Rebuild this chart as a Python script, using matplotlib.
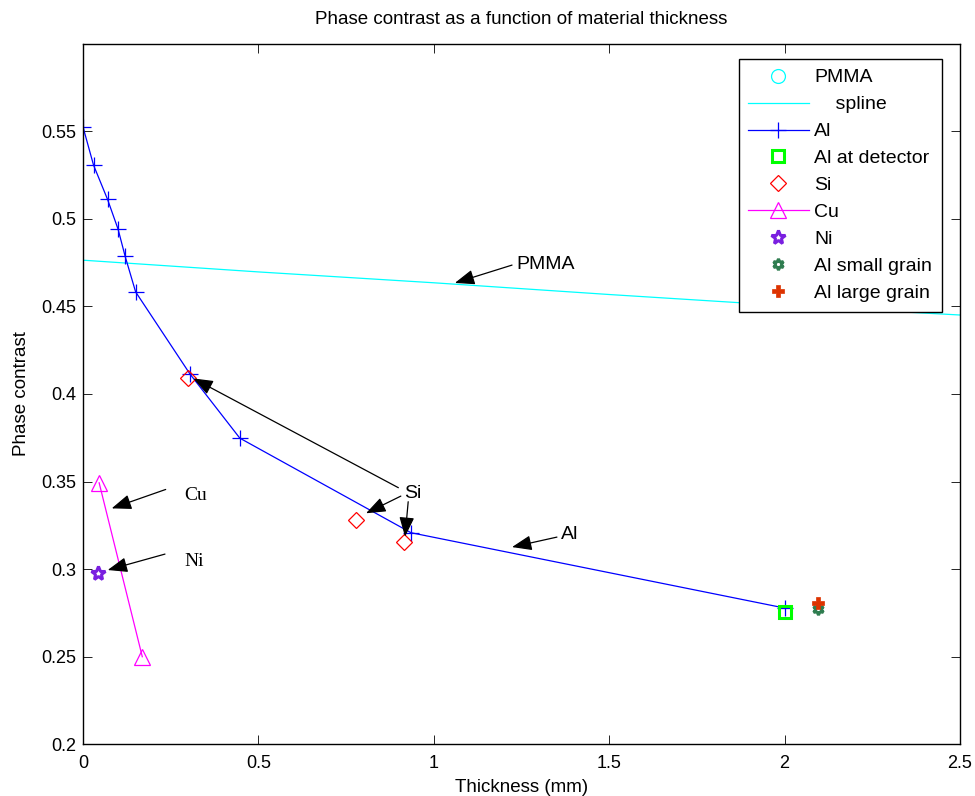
import numpy as np
import matplotlib
matplotlib.use('Agg')
import matplotlib.pyplot as plt

plt.rcParams['font.family'] = ['Liberation Sans', 'DejaVu Sans']

# Data (thickness in mm, phase contrast)
pmma_thick = []
pmma_phase = []

spline_thick = [0.0, 0.5, 1.0, 1.5, 2.0, 2.5]
spline_phase = [0.4764, 0.4697, 0.4635, 0.4568, 0.4505, 0.4451]

al_thick = [0.0, 0.03, 0.07, 0.10, 0.12, 0.15, 0.305, 0.447, 0.935, 2.0]
al_phase = [0.5525, 0.5307, 0.5111, 0.4941, 0.4787, 0.4583, 0.4114, 0.3748, 0.3208, 0.2778]

al_det_thick = [2.0]
al_det_phase = [0.2757]

si_thick = [0.298, 0.778, 0.916]
si_phase = [0.4092, 0.328, 0.3156]

cu_thick = [0.046, 0.169]
cu_phase = [0.3493, 0.250]

ni_thick = [0.044]
ni_phase = [0.2976]

al_small_thick = [2.096]
al_small_phase = [0.2771]

al_large_thick = [2.096]
al_large_phase = [0.2805]

x_ticks = [0, 0.5, 1, 1.5, 2, 2.5]
x_tick_labels = ['0', '0.5', '1', '1.5', '2', '2.5']
y_ticks = [0.2, 0.25, 0.3, 0.35, 0.4, 0.45, 0.5, 0.55]
y_tick_labels = ['0.2', '0.25', '0.3', '0.35', '0.4', '0.45', '0.5', '0.55']

fig = plt.figure(figsize=(9.75, 7.96), dpi=100)
ax = fig.add_axes([83 / 975, 1 - 744.3 / 796, 877 / 975, 700.6 / 796])

ax.plot(pmma_thick, pmma_phase, 'o', color='#00ffff', mfc='none', ms=10, mew=0.9, label='PMMA')
ax.plot(spline_thick, spline_phase, '-', color='#00ffff', lw=0.9, label='    spline')
ax.plot(al_thick, al_phase, '-+', color='#0000ff', lw=0.9, ms=11, mew=0.9, label='Al')
ax.plot(al_det_thick, al_det_phase, 's', color='#00ff00', mfc='none', ms=9, mew=2.2, label='Al at detector')
ax.plot(si_thick, si_phase, 'D', color='#ff0000', mfc='none', ms=8, mew=0.9, label='Si')
ax.plot(cu_thick, cu_phase, '-^', color='#ff00ff', mfc='none', lw=0.9, ms=11, mew=0.9, label='Cu')
ax.plot(ni_thick, ni_phase, '*', color='#7a1fe0', mfc='none', ms=10, mew=2.2, label='Ni')
ax.plot(al_small_thick, al_small_phase, marker=(6, 1, 0), ls='none', color='#2f7d50', mfc='none',
        ms=8, mew=2.2, label='Al small grain')
ax.plot(al_large_thick, al_large_phase, 'P', color='#dd3300', ms=9, mew=0.5, label='Al large grain')

# annotations
arrow = dict(arrowstyle='-|>,head_length=1.1,head_width=0.42', color='black', lw=0.9,
             shrinkA=0, shrinkB=0, mutation_scale=11)

def arrow_to(tip, start):
    ax.annotate('', xy=tip, xytext=start, arrowprops=arrow)

ax.text(1.234, 0.4741, 'PMMA', fontsize=14, va='center', ha='left')
arrow_to((1.060, 0.4634), (1.223, 0.4736))

ax.text(1.363, 0.3195, 'Al', fontsize=14, va='center', ha='left')
arrow_to((1.223, 0.3126), (1.351, 0.3183))

ax.text(0.915, 0.343, 'Si', fontsize=14, va='center', ha='left')
arrow_to((0.3144, 0.4089), (0.899, 0.3465))
arrow_to((0.8067, 0.3319), (0.906, 0.3417))
arrow_to((0.918, 0.3185), (0.927, 0.3385))

ax.text(0.289, 0.3423, 'Cu', fontsize=14, va='center', ha='left', family='Liberation Serif')
arrow_to((0.0818, 0.3347), (0.2357, 0.3455))

ax.text(0.288, 0.3042, 'Ni', fontsize=14, va='center', ha='left', family='Liberation Serif')
arrow_to((0.0704, 0.2995), (0.2337, 0.3086))

ax.set_xlim(0, 2.5)
ax.set_ylim(0.2, 0.6)
ax.set_xticks(x_ticks)
ax.set_xticklabels(x_tick_labels)
ax.set_yticks(y_ticks)
ax.set_yticklabels(y_tick_labels)
ax.tick_params(direction='in', top=True, right=True, length=6.5, width=0.6, labelsize=13)
ax.tick_params(axis='x', pad=8)
ax.tick_params(axis='y', pad=5)
for s in ax.spines.values():
    s.set_linewidth(1.0)

ax.set_title('Phase contrast as a function of material thickness', fontsize=13.5, pad=14)
ax.set_xlabel('Thickness (mm)', fontsize=13.5, labelpad=5)
ax.set_ylabel('Phase contrast', fontsize=13.5, labelpad=8)

leg = ax.legend(loc='upper right', bbox_to_anchor=(0.9795, 0.978), borderaxespad=0,
                fontsize=14, frameon=True, fancybox=False, edgecolor='black',
                framealpha=1, handlelength=3.1, labelspacing=0.48, borderpad=0.5,
                handletextpad=0.3)
leg.get_frame().set_linewidth(1.0)

fig.savefig('out.png', dpi=100)
